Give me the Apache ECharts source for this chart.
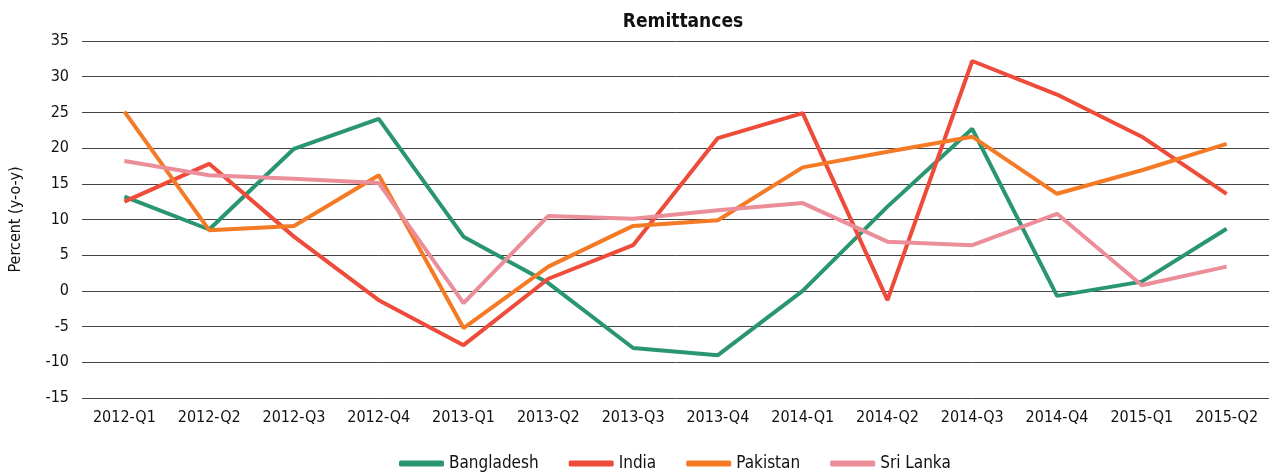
<!DOCTYPE html>
<html lang="en">
<head>
    <meta charset="UTF-8">
    <title>Remittances</title>
    <script src="https://cdn.jsdelivr.net/npm/echarts@6.0.0/dist/echarts.min.js"></script>
    <style>
        html, body { margin: 0; padding: 0; background: #ffffff; }
        #chart { width: 1269px; height: 474px; }
    </style>
</head>
<body>
    <div id="chart"></div>
    <script>
        // quarters on the x axis
        const quarters = ['2012-Q1', '2012-Q2', '2012-Q3', '2012-Q4', '2013-Q1', '2013-Q2', '2013-Q3',
            '2013-Q4', '2014-Q1', '2014-Q2', '2014-Q3', '2014-Q4', '2015-Q1', '2015-Q2'];

        // remittance growth, percent y-o-y
        const bangladesh = [13.2, 8.6, 19.9, 24.1, 7.6, 1.1, -8.0, -9.0, 0.0, 11.8, 22.7, -0.7, 1.3, 8.7];
        const india = [12.5, 17.8, 7.6, -1.3, -7.6, 1.7, 6.4, 21.4, 24.9, -1.3, 32.2, 27.5, 21.6, 13.6];
        const pakistan = [25.1, 8.5, 9.1, 16.2, -5.2, 3.4, 9.1, 9.9, 17.3, 19.5, 21.6, 13.6, 16.9, 20.6];
        const sriLanka = [18.2, 16.2, 15.7, 15.1, -1.7, 10.5, 10.1, 11.3, 12.3, 6.9, 6.4, 10.8, 0.8, 3.4];

        const font = "'Liberation Sans Narrow', 'DejaVu Sans Condensed', sans-serif";

        const chart = echarts.init(document.getElementById('chart'));

        function line(name, data, color) {
            return {
                name: name,
                type: 'line',
                data: data,
                symbol: 'none',
                lineStyle: { width: 4, color: color },
                itemStyle: { color: color }
            };
        }

        chart.setOption({
            animation: false,
            textStyle: { fontFamily: font },
            title: {
                text: 'Remittances',
                left: 678,
                textAlign: 'center',
                top: 8,
                textStyle: { fontFamily: font, fontWeight: 'bold', fontSize: 19, color: '#111' }
            },
            legend: {
                bottom: -3,
                left: 394,
                itemWidth: 45,
                itemHeight: 6,
                itemGap: 30,
                icon: 'roundRect',
                textStyle: { fontFamily: font, fontSize: 17, color: '#111' }
            },
            // plot runs past the right edge of the canvas, as in the original
            grid: { left: 79, top: 41, width: 1199, height: 357, containLabel: false },
            xAxis: {
                type: 'category',
                data: quarters,
                boundaryGap: true,
                axisTick: { show: false },
                axisLine: { show: false },
                axisLabel: { fontFamily: font, fontSize: 16, color: '#111', margin: 12 }
            },
            yAxis: {
                type: 'value',
                min: -15,
                max: 35,
                interval: 5,
                name: 'Percent (y-o-y)',
                nameLocation: 'middle',
                nameGap: 58,
                nameTextStyle: { fontFamily: font, fontSize: 16, color: '#111' },
                axisLabel: { fontFamily: font, fontSize: 16, color: '#111', margin: 13 },
                splitLine: { lineStyle: { color: '#444', width: 1 } }
            },
            series: [
                line('Bangladesh', bangladesh, '#2a9670'),
                line('India', india, '#ee4b3a'),
                line('Pakistan', pakistan, '#f47a25'),
                line('Sri Lanka', sriLanka, '#eb8e9a')
            ]
        });
    </script>
</body>
</html>
